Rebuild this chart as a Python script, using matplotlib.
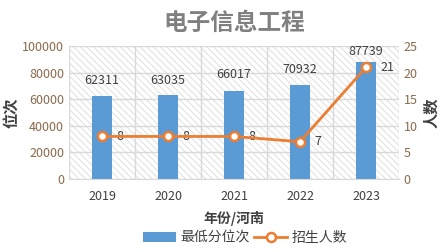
import numpy as np
import matplotlib.pyplot as plt
from matplotlib.patches import Rectangle

plt.rcParams['font.family'] = ['Noto Sans CJK SC', 'DejaVu Sans']
plt.rcParams['hatch.linewidth'] = 0.6

years = ['2019', '2020', '2021', '2022', '2023']
rank = [62311, 63035, 66017, 70932, 87739]
count = [8, 8, 8, 7, 21]

tick_col = '#8a6a4a'
text_col = '#404040'
grid_col = '#d9d9d9'

fig = plt.figure(figsize=(4.4, 2.52), dpi=100)
ax = fig.add_axes([69/440, 1 - 179/252, 330/440, 133/252])
ax2 = ax.twinx()

x = np.arange(len(years))
ax.set_xlim(-0.5, len(years) - 0.5)
ax.set_ylim(0, 100000)
ax2.set_ylim(0, 25)

# hatched background
ax.add_patch(Rectangle((0, 0), 1, 1, transform=ax.transAxes, facecolor='white',
                       edgecolor='#dadada', hatch='\\\\\\\\\\', linewidth=0, zorder=0))
ax.set_yticks(np.arange(0, 100001, 20000))
ax.grid(axis='y', color=grid_col, linewidth=1, zorder=1)
for b in np.arange(-0.5, len(years), 1):
    ax.axvline(b, color=grid_col, linewidth=1, zorder=1)

bars = ax.bar(x, rank, width=0.29, color='#5b9bd5', zorder=2, label='最低分位次')
label_y = [73700, 74400, 78200, 82700, 95500]
for xi, v, ly in zip(x, rank, label_y):
    ax.text(xi, ly, str(v), ha='center', va='center', fontsize=9, color=text_col, zorder=5)

line, = ax2.plot(x, count, color='#ed7d31', linewidth=2, marker='o', markersize=6.5,
                 markerfacecolor='white', markeredgecolor='#ed7d31', markeredgewidth=1.8,
                 label='招生人数', zorder=4)
for xi, v in zip(x, count):
    dx = 0.33 if v == 21 else 0.27
    ax2.text(xi + dx, v, str(v), ha='center', va='center', fontsize=9, color=text_col)

ax.set_xticks(x)
ax.set_xticklabels(years)
for a in (ax, ax2):
    for s in a.spines.values():
        s.set_visible(False)
    a.tick_params(length=0, labelsize=9, colors=tick_col)
ax.tick_params(axis='x', colors=text_col, pad=8)
ax.spines['bottom'].set_visible(True)
ax.spines['bottom'].set_color(grid_col)
ax.set_yticklabels([str(v) for v in np.arange(0, 100001, 20000)])
ax2.set_yticks(np.arange(0, 26, 5))

ax.set_ylabel('位次', fontsize=11, fontweight='bold', color=text_col, labelpad=2)
ax2.set_ylabel('人数', fontsize=11, fontweight='bold', color=text_col, labelpad=4)
ax.set_xlabel('年份/河南', fontsize=10, fontweight='bold', color=text_col, labelpad=6)

ax.set_zorder(ax2.get_zorder() - 1)
ax2.patch.set_visible(False)
fig.text(234/440, 1 - 23/252, '电子信息工程', ha='center', va='center',
         fontsize=17, fontweight='bold', color='#808080')

fig.legend([bars, line], ['最低分位次', '招生人数'], loc='center', bbox_to_anchor=(245/440, 1 - 238/252),
           ncol=2, frameon=False, fontsize=10, handlelength=2.4, columnspacing=0.3,
           handletextpad=0.3, labelcolor=text_col)

fig.savefig('out.png', dpi=100)
